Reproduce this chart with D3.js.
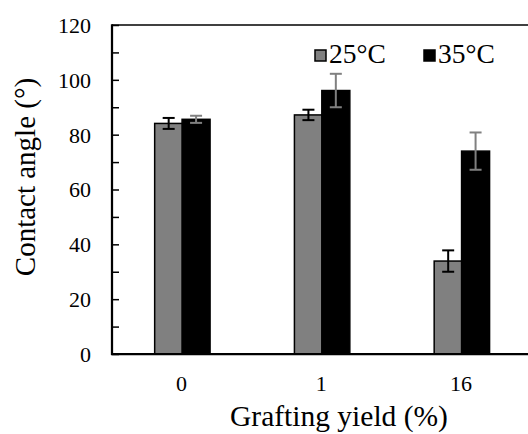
<!DOCTYPE html>
<html>
<head>
<meta charset="utf-8">
<script src="https://cdn.jsdelivr.net/npm/d3@7"></script>
<style>
  html, body { margin: 0; padding: 0; background: #fff; }
  svg { display: block; }
  svg text { font-family: "Liberation Serif", "DejaVu Serif", "Times New Roman", serif; fill: #000; }
</style>
</head>
<body>
<div id="chart"></div>
<script>
const width = 528;
const height = 434;

const categories = ["0", "1", "16"];
const series = ["25°C", "35°C"];
const values25 = [84.1, 87.2, 33.9];
const values35 = [85.6, 96.1, 74.0];
const errors25 = [2.0, 1.9, 3.9];
const errors35 = [1.3, 6.1, 6.8];
const yTicks = [0, 20, 40, 60, 80, 100, 120];

const fills = { "25°C": "#808080", "35°C": "#000000" };
const errColors = { "25°C": "#000000", "35°C": "#808080" };

const rows = [];
categories.forEach((c, i) => {
    rows.push({ cat: c, s: "25°C", v: values25[i], e: errors25[i] });
    rows.push({ cat: c, s: "35°C", v: values35[i], e: errors35[i] });
});

const svg = d3.select("#chart")
    .append("svg")
    .attr("width", width)
    .attr("height", height);

const x0 = d3.scaleBand()
    .domain(categories)
    .range([112.5, 531.75]);

// bar centres inside a group (the second series overlaps the first a little)
const x1 = d3.scalePoint()
    .domain(series)
    .range([-13.7, 13.7]);
const barW = 28;

const y = d3.scaleLinear()
    .domain([0, 120])
    .range([354, 25]);

const cx = d => x0(d.cat) + x0.bandwidth() / 2 + x1(d.s);

// top frame line
svg.append("line")
    .attr("x1", 112).attr("x2", width)
    .attr("y1", y(120)).attr("y2", y(120))
    .attr("stroke", "#000")
    .attr("stroke-width", 1.5);

// bars
svg.selectAll(".bar")
    .data(rows)
    .enter().append("rect")
    .attr("class", "bar")
    .attr("x", d => cx(d) - barW / 2)
    .attr("y", d => y(d.v))
    .attr("width", barW)
    .attr("height", d => y(0) - y(d.v))
    .attr("fill", d => fills[d.s])
    .attr("stroke", "#000")
    .attr("stroke-width", 1.5);

// error bars
const err = svg.selectAll(".err")
    .data(rows)
    .enter().append("g")
    .attr("class", "err")
    .attr("stroke", d => errColors[d.s])
    .attr("stroke-width", 2);

err.append("line")
    .attr("x1", cx).attr("x2", cx)
    .attr("y1", d => y(d.v + d.e))
    .attr("y2", d => y(d.v - d.e));

err.append("line")
    .attr("x1", d => cx(d) - 6).attr("x2", d => cx(d) + 6)
    .attr("y1", d => y(d.v + d.e)).attr("y2", d => y(d.v + d.e));

err.append("line")
    .attr("x1", d => cx(d) - 6).attr("x2", d => cx(d) + 6)
    .attr("y1", d => y(d.v - d.e)).attr("y2", d => y(d.v - d.e));

// y axis, ticks pointing inwards
const yAxis = svg.append("g")
    .attr("transform", "translate(112,0)")
    .call(d3.axisRight(y)
        .tickValues(d3.range(0, 121, 10))
        .tickSize(7)
        .tickFormat(""));
yAxis.select(".domain").remove();
yAxis.selectAll("line").attr("stroke", "#000").attr("stroke-width", 1.5);

svg.append("line")
    .attr("x1", 112).attr("x2", 112)
    .attr("y1", y(120) - 0.75).attr("y2", y(0) + 1)
    .attr("stroke", "#000")
    .attr("stroke-width", 2.25);

svg.append("g")
    .selectAll("text")
    .data(yTicks)
    .enter().append("text")
    .attr("x", 91)
    .attr("y", d => y(d))
    .attr("dy", "0.36em")
    .attr("text-anchor", "end")
    .style("font-size", "22px")
    .text(d => d);

// x axis
svg.append("line")
    .attr("x1", 111).attr("x2", width)
    .attr("y1", y(0)).attr("y2", y(0))
    .attr("stroke", "#000")
    .attr("stroke-width", 2.25);

svg.append("g")
    .selectAll("text")
    .data(categories)
    .enter().append("text")
    .attr("x", d => x0(d) + x0.bandwidth() / 2 - 1)
    .attr("y", 391)
    .attr("text-anchor", "middle")
    .style("font-size", "22px")
    .text(d => d);

// axis titles
svg.append("text")
    .attr("x", 339)
    .attr("y", 426)
    .attr("text-anchor", "middle")
    .style("font-size", "29.5px")
    .text("Grafting yield (%)");

svg.append("text")
    .attr("transform", "translate(35,177) rotate(-90)")
    .attr("text-anchor", "middle")
    .style("font-size", "29px")
    .text("Contact angle (°)");

// legend
const legendX = [315, 424];
const legend = svg.selectAll(".legend")
    .data(series)
    .enter().append("g")
    .attr("class", "legend")
    .attr("transform", (d, i) => `translate(${legendX[i]},50)`);

legend.append("rect")
    .attr("width", 11)
    .attr("height", 11)
    .attr("fill", d => fills[d])
    .attr("stroke", "#000")
    .attr("stroke-width", 1.5);

legend.append("text")
    .attr("x", 14)
    .attr("y", 13)
    .style("font-size", "27.5px")
    .text(d => d);
</script>
</body>
</html>
